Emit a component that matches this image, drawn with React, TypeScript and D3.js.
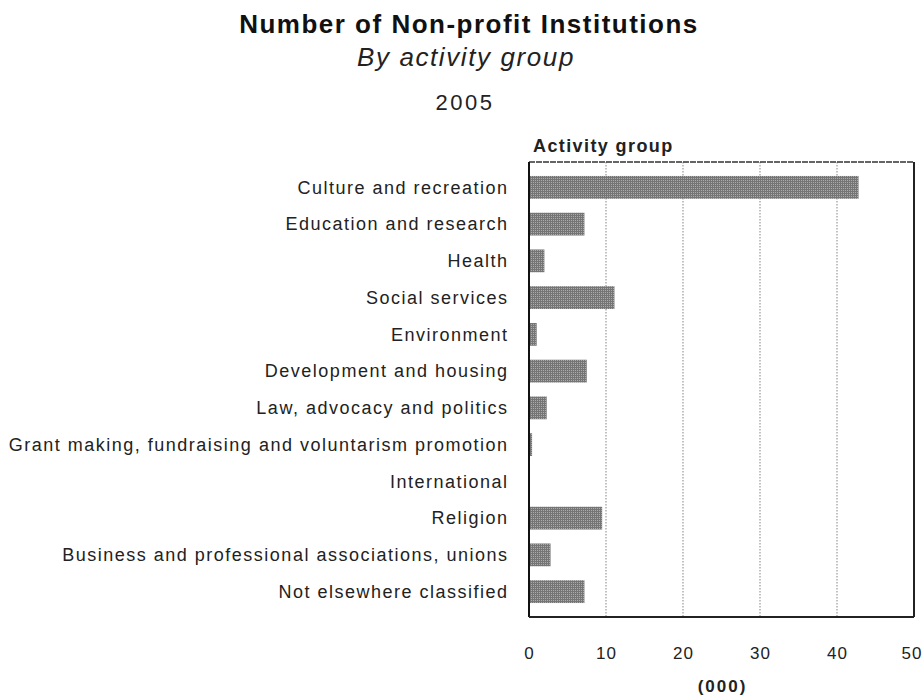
import * as d3 from 'd3';
import React, { useEffect, useRef } from 'react';

const categories = [
	"Culture and recreation",
	"Education and research",
	"Health",
	"Social services",
	"Environment",
	"Development and housing",
	"Law, advocacy and politics",
	"Grant making, fundraising and voluntarism promotion",
	"International",
	"Religion",
	"Business and professional associations, unions",
	"Not elsewhere classified",
];

// thousands of institutions
const values = [42.8, 7.2, 2.0, 11.1, 1.0, 7.5, 2.3, 0.4, 0.0, 9.5, 2.8, 7.2];

const xTicks = [0, 10, 20, 30, 40, 50];

const title = "Number of Non-profit Institutions";
const subtitle = "By activity group";
const year = "2005";

const App = () => {
	const svgRef = useRef(null);

	useEffect(() => {
		const width = 924;
		const height = 700;
		const margin = { top: 162, right: 10, bottom: 83, left: 529 };
		const innerW = 914 - margin.left;
		const innerH = 617 - margin.top;
		const font = "Arial, 'Liberation Sans', sans-serif";

		const svg = d3.select(svgRef.current)
			.attr("width", width)
			.attr("height", height)
			.style("font-family", font);

		svg.selectAll("*").remove();

		// dotted fill for the bars
		const defs = svg.append("defs");
		const pat = defs.append("pattern")
			.attr("id", "dots")
			.attr("width", 2)
			.attr("height", 2)
			.attr("patternUnits", "userSpaceOnUse");
		pat.append("rect").attr("width", 2).attr("height", 2).attr("fill", "#757575");
		pat.append("rect").attr("width", 1).attr("height", 1).attr("fill", "#ababab");

		const x = d3.scaleLinear().domain([0, 50]).range([0, innerW]);
		const y = d3.scaleBand().domain(categories).range([0, innerH]).padding(0.38);

		const g = svg.append("g").attr("transform", `translate(${margin.left},${margin.top})`);

		// dotted gridlines
		g.selectAll(".grid")
			.data(xTicks.filter(t => t > 0 && t < 50))
			.enter()
			.append("line")
			.attr("x1", d => x(d))
			.attr("x2", d => x(d))
			.attr("y1", 0)
			.attr("y2", innerH)
			.attr("stroke", "#999")
			.attr("stroke-width", 1.2)
			.attr("stroke-dasharray", "1.5,1.5");

		g.selectAll(".bar")
			.data(values)
			.enter()
			.append("rect")
			.attr("x", 0)
			.attr("y", (d, i) => y(categories[i]))
			.attr("width", d => x(d))
			.attr("height", y.bandwidth())
			.attr("fill", "url(#dots)");

		// frame
		g.append("line").attr("x1", 0).attr("x2", innerW).attr("y1", 0).attr("y2", 0)
			.attr("stroke", "#333").attr("stroke-width", 1.5).attr("stroke-dasharray", "6,1");
		g.append("line").attr("x1", innerW).attr("x2", innerW).attr("y1", 0).attr("y2", innerH)
			.attr("stroke", "#222").attr("stroke-width", 2);
		g.append("line").attr("x1", 0).attr("x2", 0).attr("y1", 0).attr("y2", innerH)
			.attr("stroke", "#111").attr("stroke-width", 2);
		g.append("line").attr("x1", 0).attr("x2", innerW).attr("y1", innerH).attr("y2", innerH)
			.attr("stroke", "#222").attr("stroke-width", 2);

		// category labels
		g.selectAll(".cat")
			.data(categories)
			.enter()
			.append("text")
			.attr("x", -20.5)
			.attr("y", d => y(d) + y.bandwidth() / 2)
			.attr("dy", "0.35em")
			.attr("text-anchor", "end")
			.attr("font-size", 18)
			.attr("letter-spacing", 1.5)
			.attr("fill", "#222")
			.text(d => d);

		// x tick labels (last one kept inside the page)
		g.selectAll(".tick")
			.data(xTicks)
			.enter()
			.append("text")
			.attr("x", d => Math.min(x(d) + 0.5, innerW - 2))
			.attr("y", innerH + 42)
			.attr("text-anchor", "middle")
			.attr("font-size", 17)
			.attr("letter-spacing", 1)
			.attr("fill", "#222")
			.text(d => d);

		g.append("text")
			.attr("x", x(25) + 1)
			.attr("y", innerH + 75)
			.attr("text-anchor", "middle")
			.attr("font-size", 17)
			.attr("font-weight", "bold")
			.attr("letter-spacing", 2)
			.attr("fill", "#222")
			.text("(000)");

		g.append("text")
			.attr("x", 4)
			.attr("y", -10)
			.attr("font-size", 18)
			.attr("font-weight", "bold")
			.attr("letter-spacing", 1.4)
			.attr("fill", "#222")
			.text("Activity group");

		// titles
		svg.append("text")
			.attr("x", 469)
			.attr("y", 33)
			.attr("text-anchor", "middle")
			.attr("font-size", 26)
			.attr("font-weight", "bold")
			.attr("letter-spacing", 1.5)
			.attr("fill", "#111")
			.text(title);

		svg.append("text")
			.attr("x", 466)
			.attr("y", 66)
			.attr("text-anchor", "middle")
			.attr("font-size", 26)
			.attr("font-style", "italic")
			.attr("letter-spacing", 1.6)
			.attr("fill", "#222")
			.text(subtitle);

		svg.append("text")
			.attr("x", 465)
			.attr("y", 110)
			.attr("text-anchor", "middle")
			.attr("font-size", 22)
			.attr("letter-spacing", 2.5)
			.attr("fill", "#222")
			.text(year);
	}, []);

	return <svg ref={svgRef} style={{ position: "absolute", left: 0, top: 0 }} />;
};

export default App;
